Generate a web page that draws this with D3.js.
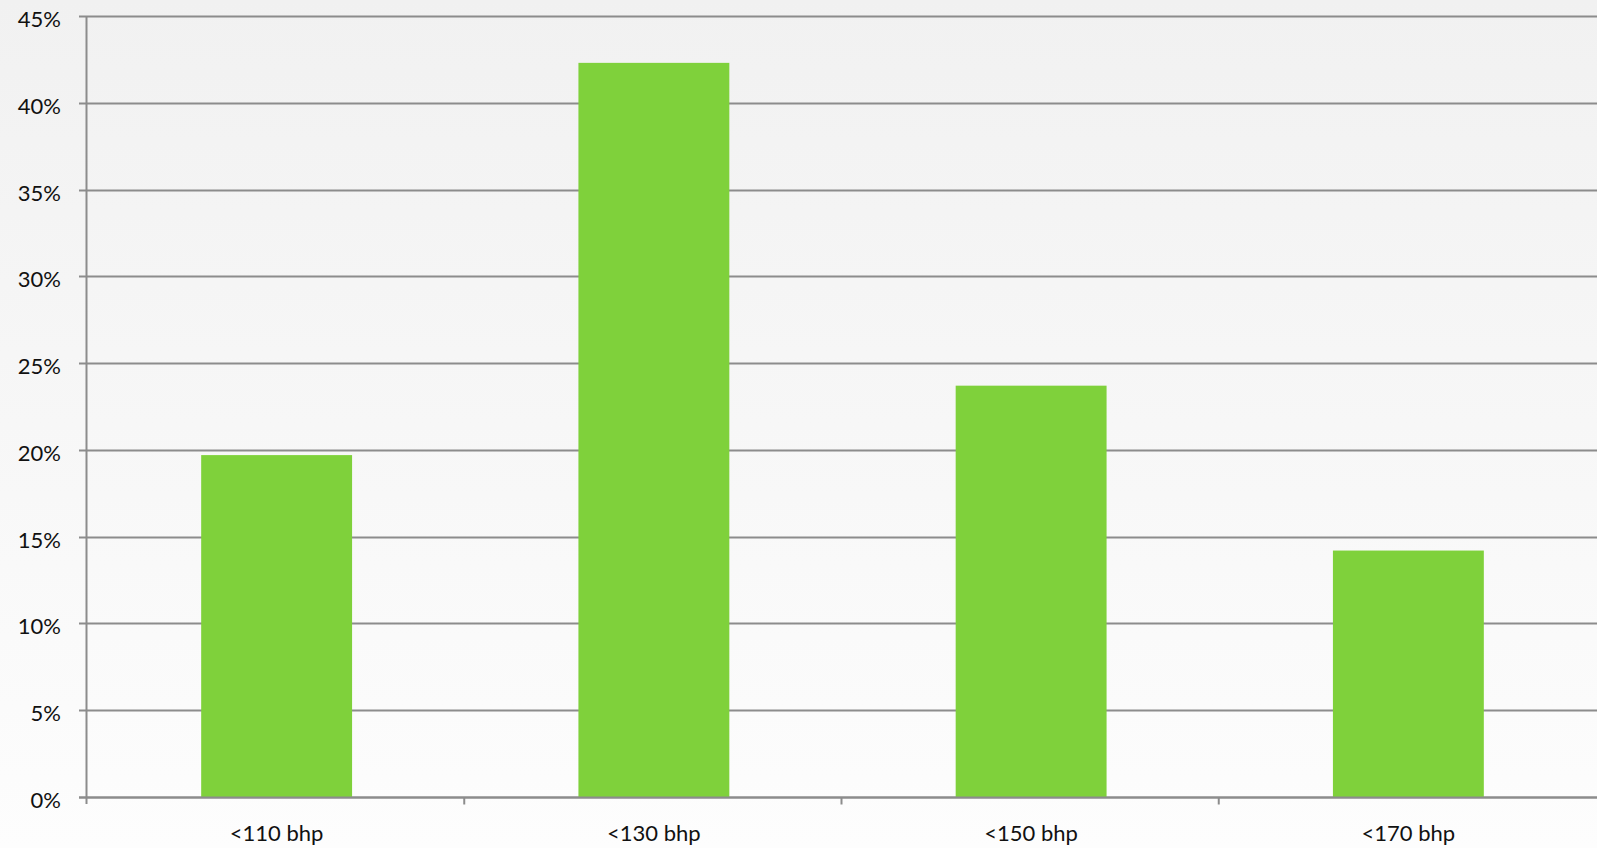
<!DOCTYPE html>
<html>
<head>
<meta charset="utf-8">
<script src="https://cdn.jsdelivr.net/npm/d3@7"></script>
<style>
    html, body { margin: 0; padding: 0; }
    body { width: 1597px; height: 848px; overflow: hidden; }
    svg { display: block; font-family: "Lato", "Open Sans", sans-serif; }
</style>
</head>
<body>
<div id="chart"></div>
<script>
const categories = ["<110 bhp", "<130 bhp", "<150 bhp", "<170 bhp"];
const shares = [19.7, 42.3, 23.7, 14.2];
const yTicks = [0, 5, 10, 15, 20, 25, 30, 35, 40, 45];

const width = 1597;
const height = 848;
const margin = { top: 16, right: 1, bottom: 51, left: 87 };

const svg = d3.select("#chart")
    .append("svg")
    .attr("width", width)
    .attr("height", height);

// soft grey-to-white backdrop
const grad = svg.append("defs").append("linearGradient")
    .attr("id", "bg")
    .attr("x1", 0).attr("y1", 0).attr("x2", 0).attr("y2", 1);
grad.append("stop").attr("offset", "0%").attr("stop-color", "#f1f1f1");
grad.append("stop").attr("offset", "100%").attr("stop-color", "#fdfdfd");

svg.append("rect")
    .attr("width", width)
    .attr("height", height)
    .attr("fill", "url(#bg)");

const x = d3.scaleBand()
    .domain(categories)
    .range([margin.left, width - margin.right])
    .padding(0);

const y = d3.scaleLinear()
    .domain([0, 45])
    .range([height - margin.bottom, margin.top]);

// gridlines
svg.append("g")
    .selectAll("line")
    .data(yTicks)
    .enter()
    .append("line")
    .attr("x1", margin.left - 8)
    .attr("x2", width)
    .attr("y1", (d) => Math.round(y(d)) + 0.5)
    .attr("y2", (d) => Math.round(y(d)) + 0.5)
    .attr("stroke", "#8c8c8c")
    .attr("stroke-width", 2);

// bars
const barWidth = x.bandwidth() * 0.4;
svg.append("g")
    .selectAll("rect")
    .data(categories)
    .enter()
    .append("rect")
    .attr("x", (d) => x(d) + (x.bandwidth() - barWidth) / 2 + 1)
    .attr("y", (d, i) => y(shares[i]))
    .attr("width", barWidth)
    .attr("height", (d, i) => y(0) - y(shares[i]))
    .attr("fill", "#7fd13b");

// y axis line
svg.append("line")
    .attr("x1", margin.left - 0.5)
    .attr("x2", margin.left - 0.5)
    .attr("y1", y(45))
    .attr("y2", y(0) + 7)
    .attr("stroke", "#8c8c8c")
    .attr("stroke-width", 2);

// x axis line and category boundary ticks
const xBase = Math.round(y(0)) + 0.5;
svg.append("line")
    .attr("x1", margin.left - 8)
    .attr("x2", width)
    .attr("y1", xBase)
    .attr("y2", xBase)
    .attr("stroke", "#8c8c8c")
    .attr("stroke-width", 2);

const boundaries = categories.map((d) => x(d) + x.bandwidth()).slice(0, -1);
svg.append("g")
    .selectAll("line")
    .data(boundaries)
    .enter()
    .append("line")
    .attr("x1", (d) => d)
    .attr("x2", (d) => d)
    .attr("y1", xBase)
    .attr("y2", xBase + 7)
    .attr("stroke", "#8c8c8c")
    .attr("stroke-width", 2);

// y tick labels
svg.append("g")
    .selectAll("text")
    .data(yTicks)
    .enter()
    .append("text")
    .attr("x", 61)
    .attr("y", (d) => y(d) + 11)
    .attr("text-anchor", "end")
    .attr("font-size", 22)
    .attr("fill", "#111")
    .text((d) => `${d}%`);

// category labels
svg.append("g")
    .selectAll("text")
    .data(categories)
    .enter()
    .append("text")
    .attr("x", (d) => x(d) + x.bandwidth() / 2 + 1)
    .attr("y", 841)
    .attr("text-anchor", "middle")
    .attr("font-size", 22)
    .attr("fill", "#111")
    .text((d) => d);
</script>
</body>
</html>
